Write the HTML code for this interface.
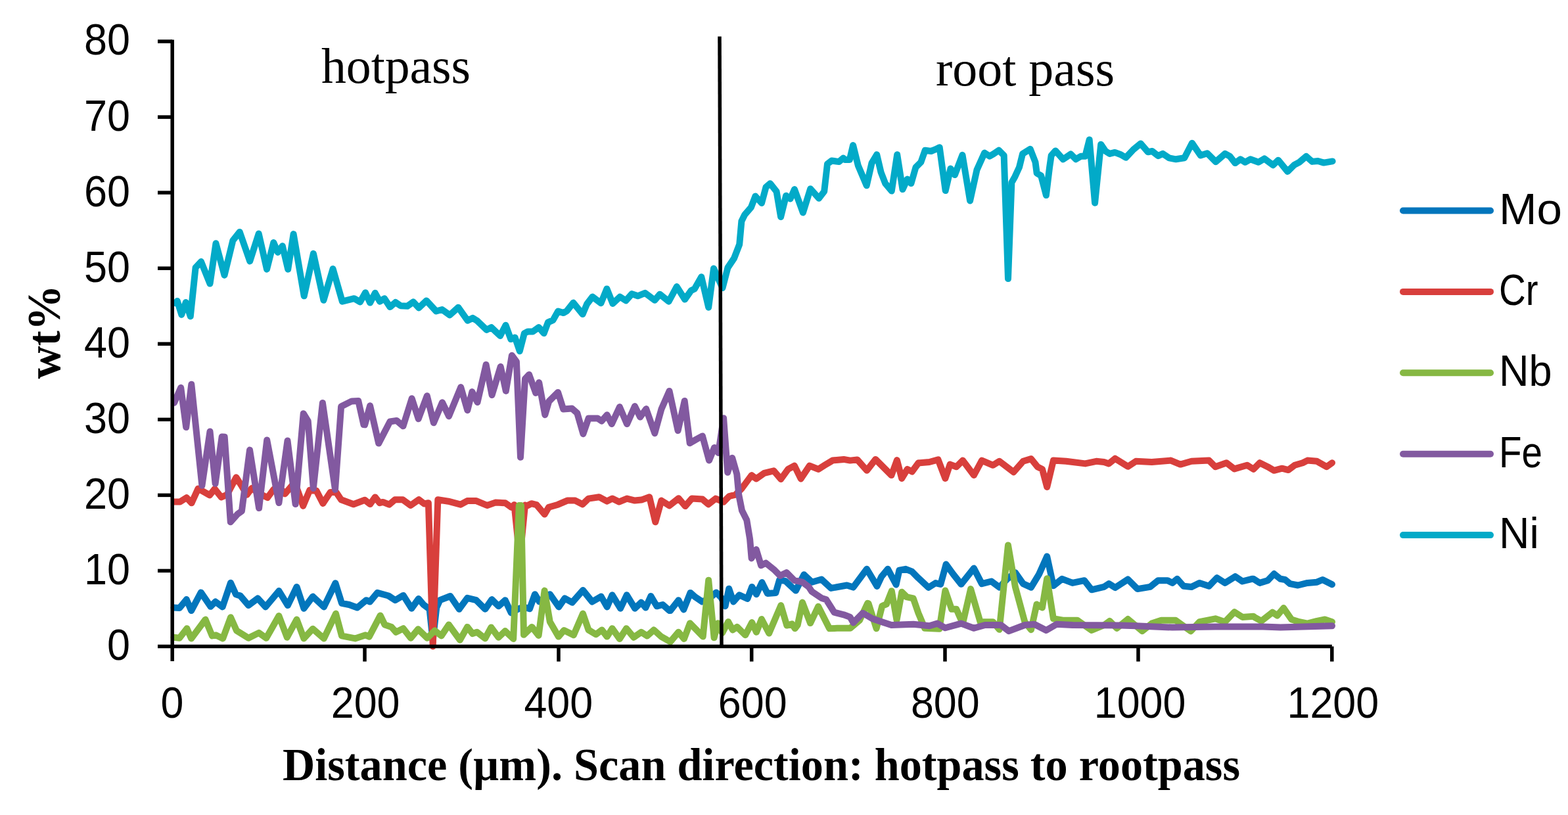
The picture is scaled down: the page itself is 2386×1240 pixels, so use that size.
<!DOCTYPE html>
<html><head><meta charset="utf-8"><style>
html,body{margin:0;padding:0;background:#fff;overflow:hidden;}
svg{display:block;}
.sans{font-family:"Liberation Sans",Arial,sans-serif;font-size:66px;fill:#000;}
.serif{font-family:"Liberation Serif","Times New Roman",serif;fill:#000;}
</style></head><body>
<svg width="2386" height="1240" viewBox="0 0 2386 1240">
<rect width="2386" height="1240" fill="#fff"/>
<g fill="none" stroke-width="10" stroke-linejoin="round" stroke-linecap="round">
<path d="M264.6,924.5 L273.1,925.1 L283.8,912.1 L291.1,929.1 L305.8,901.4 L320.5,922.8 L327.8,915.5 L338.6,923.4 L351.0,886.7 L358.9,904.2 L365.7,906.5 L378.1,921.1 L392.2,910.4 L404.1,923.4 L424.4,899.1 L437.9,921.1 L451.5,892.9 L462.4,925.7 L476.0,907.6 L492.9,923.4 L510.4,887.3 L520.0,917.8 L531.3,920.0 L543.7,924.5 L557.3,913.2 L562.9,915.5 L574.2,901.9 L591.2,906.5 L601.3,913.2 L613.7,905.9 L626.2,925.7 L636.9,911.0 L644.5,920.0 L653.6,926.8 L658.6,974.2 L664.3,924.5 L669.4,913.2 L685.2,907.0 L698.7,926.8 L711.1,909.9 L724.7,913.2 L738.2,926.8 L748.4,912.1 L758.6,922.3 L768.7,913.2 L777.8,932.4 L787.9,926.8 L797.0,923.4 L806.0,926.2 L813.9,904.2 L820.7,915.5 L836.8,904.2 L850.3,923.4 L859.4,910.4 L870.7,916.6 L887.0,898.0 L901.1,915.5 L914.7,907.6 L923.7,923.4 L931.6,905.3 L944.1,925.7 L953.7,905.3 L966.1,925.7 L975.7,916.6 L982.5,924.5 L990.4,907.0 L999.4,922.3 L1008.4,920.0 L1018.6,929.1 L1020.0,929.1 L1032.4,913.2 L1040.3,927.4 L1050.5,901.9 L1058.4,908.7 L1068.6,915.5 L1078.7,911.0 L1090.0,901.4 L1097.9,909.9 L1103.6,922.3 L1109.2,895.7 L1116.0,915.5 L1125.0,905.3 L1137.4,911.0 L1144.2,892.9 L1151.0,904.2 L1159.5,886.1 L1167.9,903.1 L1180.4,901.9 L1186.0,882.7 L1195.0,883.9 L1210.9,898.6 L1223.4,874.3 L1235.5,885.7 L1250.0,881.5 L1264.5,894.9 L1288.7,890.5 L1298.4,893.6 L1319.0,865.8 L1334.5,891.9 L1341.3,877.4 L1351.0,865.8 L1363.6,889.5 L1368.4,867.7 L1378.1,865.8 L1387.8,869.7 L1397.4,879.4 L1412.9,893.9 L1423.6,887.1 L1431.3,889.0 L1439.6,858.6 L1450.5,873.6 L1462.6,888.8 L1481.9,864.6 L1494.0,888.1 L1508.6,884.5 L1520.7,893.6 L1532.8,880.8 L1544.9,871.1 L1556.9,888.1 L1569.0,893.6 L1581.1,873.6 L1593.2,846.5 L1602.9,891.2 L1616.2,880.8 L1632.0,886.9 L1650.1,883.2 L1661.0,897.3 L1680.0,892.9 L1687.3,888.1 L1696.9,894.1 L1716.3,881.5 L1730.8,896.1 L1750.2,892.9 L1762.3,883.2 L1776.8,883.2 L1784.0,886.9 L1791.3,880.8 L1801.0,891.7 L1813.1,892.9 L1825.2,886.9 L1839.7,891.7 L1851.8,879.1 L1863.9,886.9 L1879.6,877.2 L1890.5,884.5 L1905.0,880.8 L1907.3,880.8 L1916.9,886.9 L1929.0,883.2 L1938.7,873.1 L1948.4,880.8 L1955.6,882.0 L1962.9,888.1 L1975.0,890.5 L1989.5,886.9 L2004.0,885.7 L2012.5,882.0 L2027.0,889.3" stroke="#0276BC"/>
<path d="M265.1,763.6 L273.9,763.4 L283.9,757.2 L291.5,765.3 L301.5,743.4 L319.1,753.3 L326.7,743.9 L336.7,756.5 L345.5,752.7 L359.4,726.3 L368.2,740.1 L375.7,752.7 L383.3,742.6 L393.3,750.2 L407.1,757.1 L415.9,745.1 L423.5,738.9 L433.5,751.4 L448.6,733.8 L461.2,769.7 L471.3,745.8 L481.3,746.4 L491.4,765.9 L502.7,748.9 L511.5,748.9 L519.1,760.2 L537.9,767.2 L555.1,760.8 L563.2,767.1 L570.8,756.4 L577.7,765.2 L582.7,763.9 L592.2,767.7 L601.0,760.2 L612.9,760.2 L624.8,769.0 L637.4,760.2 L645.6,766.5 L651.9,765.2 L658.7,983.4 L666.3,760.2 L682.1,762.7 L700.9,767.7 L711.0,762.1 L724.8,762.1 L741.2,769.0 L753.7,764.6 L768.8,765.2 L777.6,771.5 L781.4,772.8 L782.5,768.0 L791.0,850.0 L799.0,768.5 L800.5,770.3 L808.6,766.2 L816.6,768.2 L828.7,782.4 L835.0,771.7 L849.1,767.7 L863.2,761.6 L875.3,761.6 L886.4,767.3 L895.5,758.6 L911.6,756.2 L923.7,762.6 L931.8,758.6 L941.9,763.6 L954.0,758.6 L966.0,761.6 L976.1,760.6 L988.2,756.2 L997.3,794.3 L1006.4,761.6 L1018.5,769.3 L1032.6,758.2 L1042.7,770.1 L1052.7,758.6 L1068.9,759.6 L1077.9,767.3 L1089.0,758.6 L1101.1,763.6 L1109.7,755.0 L1119.4,752.6 L1129.0,742.9 L1143.6,723.1 L1150.8,728.4 L1162.9,719.9 L1177.4,716.3 L1188.3,728.9 L1199.2,713.9 L1208.9,708.6 L1218.6,728.4 L1231.9,708.6 L1245.2,713.9 L1254.9,707.8 L1266.9,700.6 L1283.9,698.9 L1293.6,700.6 L1304.5,699.4 L1319.0,715.8 L1332.3,698.9 L1356.5,723.1 L1364.9,700.1 L1372.2,727.9 L1380.7,713.9 L1387.9,717.5 L1397.6,704.2 L1399.7,704.2 L1414.2,703.0 L1427.5,699.4 L1438.4,727.9 L1445.6,706.6 L1455.3,710.2 L1465.0,700.6 L1481.9,723.1 L1494.0,700.6 L1511.0,707.8 L1520.7,701.8 L1542.4,718.2 L1556.9,701.8 L1569.0,698.1 L1578.7,710.2 L1586.0,713.9 L1593.2,741.0 L1602.9,700.6 L1622.3,701.8 L1651.3,705.4 L1668.2,701.8 L1680.0,703.0 L1687.3,705.4 L1696.9,697.7 L1716.3,709.8 L1728.4,701.8 L1752.6,703.0 L1781.6,700.6 L1796.1,706.6 L1813.1,701.8 L1839.7,700.6 L1849.4,710.2 L1866.3,704.2 L1878.4,713.4 L1897.8,707.8 L1907.4,713.9 L1908.5,712.7 L1916.9,704.2 L1929.0,710.2 L1938.7,715.8 L1950.8,712.7 L1960.5,715.1 L1970.2,707.8 L1982.3,704.2 L1989.5,700.6 L2004.0,701.8 L2018.6,710.2 L2027.0,704.2" stroke="#D83F3C"/>
<path d="M264.6,969.7 L273.1,970.8 L284.4,956.2 L291.1,971.4 L312.6,942.6 L322.8,967.4 L328.4,966.3 L339.1,971.4 L351.0,939.2 L360.0,959.5 L378.1,970.8 L393.9,962.9 L405.2,970.8 L424.4,937.0 L436.8,969.7 L451.5,942.6 L462.4,971.4 L476.0,956.7 L492.9,971.4 L511.0,933.6 L520.0,967.4 L540.3,971.4 L556.2,966.3 L561.8,968.6 L578.7,936.4 L585.5,950.5 L595.7,953.9 L602.5,961.8 L613.7,956.2 L625.0,970.8 L636.3,957.3 L650.2,970.8 L661.5,959.5 L671.6,967.4 L682.9,950.5 L699.9,973.7 L711.1,953.9 L719.1,964.1 L725.8,961.8 L738.2,971.4 L747.3,954.5 L758.6,969.7 L768.7,960.1 L781.2,972.0 L789.8,769.0 L793.0,769.0 L797.0,965.8 L809.4,953.9 L819.6,966.9 L828.6,898.6 L836.8,946.0 L849.8,968.6 L858.2,959.0 L872.9,966.3 L887.0,933.6 L895.5,958.4 L906.8,965.2 L915.8,958.4 L923.7,968.6 L931.6,956.2 L942.9,972.0 L953.1,956.2 L964.4,969.7 L975.7,961.8 L984.7,967.4 L994.9,958.4 L1006.2,968.6 L1020.0,976.5 L1032.4,961.8 L1040.9,972.0 L1049.9,948.2 L1069.7,968.6 L1078.2,882.7 L1086.6,970.3 L1092.3,948.2 L1099.1,962.9 L1108.1,946.0 L1114.9,958.4 L1121.6,953.9 L1134.1,966.3 L1144.2,947.1 L1151.0,961.8 L1158.9,942.0 L1170.2,963.5 L1188.3,921.1 L1197.3,951.6 L1205.2,949.4 L1209.7,956.2 L1213.7,951.0 L1221.0,916.6 L1233.1,948.1 L1245.2,922.7 L1262.1,956.3 L1274.2,955.8 L1293.6,955.8 L1308.1,943.7 L1320.2,917.8 L1321.5,918.1 L1333.6,956.3 L1342.3,922.0 L1349.0,919.1 L1356.8,899.2 L1364.5,943.3 L1372.3,900.7 L1380.0,908.4 L1389.7,910.3 L1397.4,932.6 L1407.1,955.8 L1429.4,956.8 L1438.4,898.5 L1448.1,926.8 L1455.3,926.8 L1465.0,948.6 L1477.1,896.1 L1491.6,946.2 L1511.0,946.2 L1520.7,957.8 L1534.0,829.5 L1544.9,892.9 L1559.4,946.2 L1569.0,958.2 L1577.5,919.5 L1586.0,924.4 L1593.2,880.3 L1602.9,941.3 L1617.4,943.7 L1639.2,943.7 L1661.0,959.0 L1680.3,951.0 L1688.5,944.9 L1699.4,955.8 L1716.3,942.0 L1738.1,960.2 L1752.6,948.6 L1767.1,943.7 L1788.9,943.7 L1811.9,960.2 L1825.2,946.2 L1849.4,941.3 L1863.9,946.2 L1878.4,931.1 L1890.5,938.9 L1907.4,937.7 L1908.5,938.9 L1919.4,944.9 L1936.3,931.6 L1943.6,936.5 L1953.2,925.1 L1965.3,942.5 L1977.4,946.2 L1989.5,948.6 L2004.0,944.9 L2016.1,942.5 L2027.0,946.2" stroke="#86B843"/>
<path d="M265.1,612.8 L275.2,589.8 L283.2,650.1 L291.3,584.8 L307.4,738.8 L319.5,656.4 L327.6,735.8 L337.7,664.4 L341.7,664.8 L350.8,794.3 L361.9,781.8 L367.9,777.7 L380.0,684.6 L394.1,773.1 L406.2,669.5 L424.4,765.0 L437.5,670.5 L449.6,767.1 L461.7,629.2 L468.7,640.6 L476.8,742.9 L490.9,613.0 L510.0,744.9 L519.1,618.5 L535.2,610.4 L545.3,610.0 L553.4,646.1 L555.1,646.3 L563.1,617.3 L576.2,674.6 L593.4,641.5 L603.5,639.9 L613.5,648.3 L626.7,606.2 L636.7,637.3 L649.8,602.2 L659.9,643.3 L673.0,612.3 L683.1,633.2 L701.2,589.1 L711.3,624.2 L718.4,596.1 L726.5,612.1 L739.6,554.8 L748.6,601.0 L761.7,557.8 L769.8,594.9 L778.9,540.7 L785.9,550.2 L792.0,695.7 L799.0,576.4 L805.1,569.9 L815.2,597.9 L820.2,582.0 L829.3,631.2 L835.3,610.6 L849.1,596.9 L857.2,622.5 L870.3,621.5 L878.3,628.5 L887.4,660.2 L895.5,636.6 L909.6,636.6 L915.6,640.6 L923.7,631.2 L930.8,645.1 L942.9,619.1 L954.0,645.1 L966.0,618.1 L974.1,634.6 L983.2,622.1 L996.3,659.2 L1006.4,622.5 L1018.5,594.9 L1031.6,655.2 L1041.7,610.0 L1049.7,674.3 L1058.8,668.9 L1068.9,663.4 L1079.0,700.5 L1087.0,681.0 L1093.1,689.0 L1101.1,636.2 L1107.2,718.7 L1114.2,696.7 L1121.3,721.3 L1124.2,752.6 L1129.0,776.8 L1136.3,791.3 L1141.1,820.3 L1143.6,849.4 L1150.8,836.1 L1158.1,860.3 L1165.3,856.6 L1177.4,866.3 L1187.1,876.0 L1196.8,871.1 L1208.9,883.2 L1221.0,885.7 L1230.7,892.9 L1235.5,900.2 L1250.0,909.9 L1257.3,912.3 L1269.4,931.6 L1283.9,935.3 L1293.6,938.9 L1298.4,947.4 L1312.9,932.8 L1327.4,941.3 L1342.0,946.2 L1356.5,951.0 L1390.0,949.8 L1414.2,952.2 L1426.3,948.6 L1438.4,955.3 L1462.6,948.6 L1481.9,955.8 L1498.9,951.0 L1523.1,951.0 L1535.2,960.2 L1559.4,951.0 L1573.9,949.8 L1592.0,959.0 L1607.8,949.8 L1632.0,951.0 L1704.2,951.5 L1728.4,952.2 L1784.0,954.6 L1849.4,953.4 L1922.0,953.4 L1948.4,954.6 L2027.0,952.2" stroke="#8259A0"/>
<path d="M266.6,461.3 L269.8,458.1 L276.3,478.7 L282.7,460.0 L289.8,481.3 L297.6,407.1 L306.0,398.1 L319.5,431.6 L328.5,370.3 L341.5,418.7 L354.4,365.8 L364.7,352.9 L380.2,397.4 L393.7,355.5 L406.0,409.7 L416.3,369.0 L422.7,383.9 L429.8,374.2 L438.2,409.7 L446.6,356.1 L462.7,450.3 L476.9,385.8 L492.4,456.8 L506.6,409.0 L520.8,458.7 L538.9,454.2 L547.9,459.4 L556.0,445.2 L563.1,460.6 L570.8,445.8 L577.9,458.7 L585.0,454.2 L593.4,467.1 L601.8,460.0 L609.5,465.2 L619.8,465.8 L628.9,459.4 L637.3,468.4 L648.9,457.4 L663.7,473.5 L672.7,471.0 L684.4,479.4 L697.3,467.7 L711.5,487.7 L719.2,483.9 L725.6,487.7 L740.5,501.9 L747.6,498.1 L761.1,511.0 L769.5,494.8 L777.3,516.1 L783.7,513.5 L790.8,534.2 L797.9,507.1 L803.1,504.5 L810.8,504.5 L819.8,498.1 L827.6,507.1 L834.0,490.3 L841.5,487.1 L849.2,473.5 L857.6,476.1 L862.7,472.9 L872.4,460.6 L886.6,478.1 L893.1,462.6 L901.5,451.6 L914.4,461.3 L923.4,439.4 L932.4,461.9 L943.4,451.6 L952.4,457.4 L961.5,447.1 L970.5,450.3 L981.5,445.8 L996.3,456.8 L1004.0,447.7 L1017.6,458.7 L1029.8,436.1 L1042.1,455.5 L1051.8,441.9 L1056.9,439.4 L1067.3,421.3 L1078.2,467.7 L1086.0,408.4 L1099.5,438.1 L1107.4,407.4 L1117.1,392.9 L1125.2,371.9 L1128.4,336.5 L1133.2,326.8 L1142.9,315.5 L1149.4,298.5 L1159.0,309.0 L1165.5,284.8 L1171.9,279.2 L1181.6,291.3 L1188.1,330.0 L1196.1,297.7 L1202.6,302.6 L1209.0,288.1 L1221.9,323.5 L1233.2,287.3 L1246.1,301.8 L1254.2,291.3 L1259.0,249.4 L1265.5,244.5 L1276.8,246.1 L1283.2,240.5 L1285.2,242.9 L1292.9,242.9 L1298.1,221.0 L1305.8,251.9 L1318.7,282.3 L1326.5,248.1 L1334.2,235.2 L1340.6,262.3 L1347.1,279.0 L1356.8,290.6 L1365.2,235.2 L1373.5,288.1 L1380.6,272.6 L1386.5,279.0 L1393.5,254.5 L1401.3,246.8 L1407.7,228.7 L1416.8,230.0 L1423.2,227.4 L1429.7,224.2 L1438.7,290.0 L1446.5,256.5 L1452.9,266.1 L1464.5,235.8 L1476.1,305.5 L1486.5,258.4 L1498.1,232.6 L1505.8,237.7 L1512.3,233.9 L1520.0,228.7 L1527.7,236.5 L1534.0,424.0 L1539.4,277.7 L1544.5,268.7 L1551.0,254.5 L1556.1,233.9 L1567.7,226.8 L1575.5,246.8 L1577.7,263.5 L1584.2,267.4 L1591.9,297.1 L1597.1,254.5 L1599.7,236.5 L1606.1,229.4 L1617.7,242.3 L1629.4,234.5 L1637.1,242.3 L1644.8,237.7 L1651.3,237.7 L1657.7,212.6 L1666.1,308.7 L1675.2,219.7 L1682.3,230.0 L1688.7,233.9 L1696.5,231.9 L1705.5,235.2 L1713.2,239.7 L1724.8,227.4 L1735.8,218.4 L1746.8,231.3 L1753.2,230.0 L1762.3,237.1 L1769.4,233.9 L1779.0,240.3 L1789.4,242.3 L1802.3,240.3 L1813.9,217.7 L1826.8,236.5 L1837.1,233.2 L1850.0,246.1 L1864.2,233.9 L1871.5,237.9 L1879.5,248.1 L1887.5,242.3 L1894.6,246.8 L1902.6,242.3 L1915.0,246.8 L1923.9,241.4 L1937.2,251.2 L1945.1,243.7 L1959.3,261.0 L1969.1,251.2 L1977.1,246.8 L1987.7,237.9 L1996.6,245.9 L2005.5,245.0 L2014.3,247.6 L2027.6,245.4" stroke="#02AAC8"/>
</g>
<g stroke="#000" stroke-width="5.5" fill="none">
<line x1="262.2" y1="60.5" x2="262.2" y2="1006"/>
<line x1="240" y1="983.5" x2="2026.8" y2="983.5"/>
<line x1="240" y1="868.4" x2="262.2" y2="868.4"/>
<line x1="240" y1="753.4" x2="262.2" y2="753.4"/>
<line x1="240" y1="638.3" x2="262.2" y2="638.3"/>
<line x1="240" y1="523.2" x2="262.2" y2="523.2"/>
<line x1="240" y1="408.2" x2="262.2" y2="408.2"/>
<line x1="240" y1="293.1" x2="262.2" y2="293.1"/>
<line x1="240" y1="178.1" x2="262.2" y2="178.1"/>
<line x1="240" y1="63.0" x2="262.2" y2="63.0"/>
<line x1="555.0" y1="983.5" x2="555.0" y2="1006.5"/>
<line x1="850.0" y1="983.5" x2="850.0" y2="1006.5"/>
<line x1="1143.7" y1="983.5" x2="1143.7" y2="1006.5"/>
<line x1="1438.0" y1="983.5" x2="1438.0" y2="1006.5"/>
<line x1="1732.0" y1="983.5" x2="1732.0" y2="1006.5"/>
<line x1="2026.8" y1="983.5" x2="2026.8" y2="1006.5"/>
<line x1="1095" y1="55.5" x2="1098" y2="983"/>
</g>
<g stroke-width="10" stroke-linecap="round">
<line x1="2135" y1="320.5" x2="2268" y2="320.5" stroke="#0276BC"/>
<line x1="2135" y1="443.9" x2="2268" y2="443.9" stroke="#D83F3C"/>
<line x1="2135" y1="567.3" x2="2268" y2="567.3" stroke="#86B843"/>
<line x1="2135" y1="690.7" x2="2268" y2="690.7" stroke="#8259A0"/>
<line x1="2135" y1="814.1" x2="2268" y2="814.1" stroke="#02AAC8"/>
</g>
<text class="sans" x="198.0" y="1003.9" text-anchor="end" textLength="35" lengthAdjust="spacingAndGlyphs">0</text>
<text class="sans" x="198.0" y="888.8" text-anchor="end" textLength="70" lengthAdjust="spacingAndGlyphs">10</text>
<text class="sans" x="198.0" y="773.8" text-anchor="end" textLength="70" lengthAdjust="spacingAndGlyphs">20</text>
<text class="sans" x="198.0" y="658.7" text-anchor="end" textLength="70" lengthAdjust="spacingAndGlyphs">30</text>
<text class="sans" x="198.0" y="543.6" text-anchor="end" textLength="70" lengthAdjust="spacingAndGlyphs">40</text>
<text class="sans" x="198.0" y="428.6" text-anchor="end" textLength="70" lengthAdjust="spacingAndGlyphs">50</text>
<text class="sans" x="198.0" y="313.5" text-anchor="end" textLength="70" lengthAdjust="spacingAndGlyphs">60</text>
<text class="sans" x="198.0" y="198.5" text-anchor="end" textLength="70" lengthAdjust="spacingAndGlyphs">70</text>
<text class="sans" x="198.0" y="83.4" text-anchor="end" textLength="70" lengthAdjust="spacingAndGlyphs">80</text>
<text class="sans" x="261.9" y="1091.5" text-anchor="middle" textLength="34.9" lengthAdjust="spacingAndGlyphs">0</text>
<text class="sans" x="556.1" y="1091.5" text-anchor="middle" textLength="104.7" lengthAdjust="spacingAndGlyphs">200</text>
<text class="sans" x="849.8" y="1091.5" text-anchor="middle" textLength="104.7" lengthAdjust="spacingAndGlyphs">400</text>
<text class="sans" x="1145.2" y="1091.5" text-anchor="middle" textLength="104.7" lengthAdjust="spacingAndGlyphs">600</text>
<text class="sans" x="1438.3" y="1091.5" text-anchor="middle" textLength="104.7" lengthAdjust="spacingAndGlyphs">800</text>
<text class="sans" x="1734.6" y="1091.5" text-anchor="middle" textLength="139.6" lengthAdjust="spacingAndGlyphs">1000</text>
<text class="sans" x="2028.3" y="1091.5" text-anchor="middle" textLength="139.6" lengthAdjust="spacingAndGlyphs">1200</text>
<text class="sans" x="2281.0" y="340.5" textLength="96" lengthAdjust="spacingAndGlyphs">Mo</text>
<text class="sans" x="2281.0" y="463.9" textLength="59.5" lengthAdjust="spacingAndGlyphs">Cr</text>
<text class="sans" x="2281.0" y="587.3" textLength="80.6" lengthAdjust="spacingAndGlyphs">Nb</text>
<text class="sans" x="2281.0" y="710.7" textLength="66" lengthAdjust="spacingAndGlyphs">Fe</text>
<text class="sans" x="2281.0" y="834.1" textLength="60.7" lengthAdjust="spacingAndGlyphs">Ni</text>
<text class="serif" x="489" y="125.6" font-size="76" textLength="227" lengthAdjust="spacingAndGlyphs">hotpass</text>
<text class="serif" x="1424" y="130.4" font-size="76" textLength="272" lengthAdjust="spacingAndGlyphs">root pass</text>
<text class="serif" transform="translate(91,505) rotate(-90)" text-anchor="middle" font-size="71" font-weight="bold" textLength="143" lengthAdjust="spacingAndGlyphs">wt%</text>
<text class="serif" x="1158.5" y="1187" text-anchor="middle" font-size="69" font-weight="bold" textLength="1457" lengthAdjust="spacingAndGlyphs">Distance (µm). Scan direction: hotpass to rootpass</text>
</svg>
</body></html>
